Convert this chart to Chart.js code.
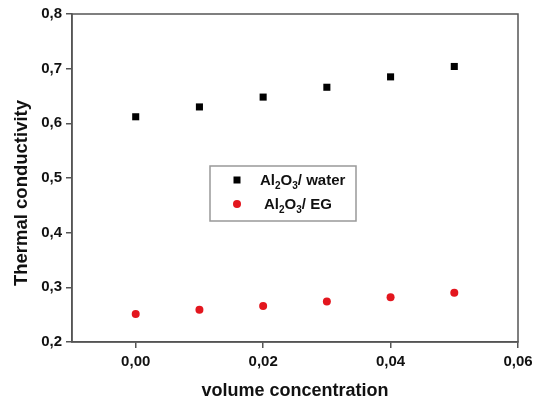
<!DOCTYPE html>
<html>
<head>
<meta charset="utf-8">
<script src="https://cdn.jsdelivr.net/npm/chart.js@4/dist/chart.umd.min.js"></script>
<style>
  html, body { margin: 0; padding: 0; background: #fff; }
  #wrap { width: 533px; height: 402px; }
</style>
</head>
<body>
<div id="wrap"><canvas id="chart" width="533" height="402"></canvas></div>
<script>
// volume concentration values
const concentration = [0.00, 0.01, 0.02, 0.03, 0.04, 0.05];
// thermal conductivity
const waterValues = [0.612, 0.630, 0.648, 0.666, 0.685, 0.704];
const egValues = [0.251, 0.259, 0.266, 0.274, 0.282, 0.290];
const xTicks = [0.00, 0.02, 0.04, 0.06];
const yTicks = [0.2, 0.3, 0.4, 0.5, 0.6, 0.7, 0.8];
const yTitle = 'Thermal conductivity';

const FONT = "'Liberation Sans', Arial, sans-serif";
const AXIS = '#555';

// frame around the plot area + y title (drawn a bit below centre, as in the original)
const framePlugin = {
    id: 'frame',
    afterDatasetsDraw(chart) {
        const a = chart.chartArea;
        const ctx = chart.ctx;
        ctx.save();
        ctx.strokeStyle = AXIS;
        ctx.lineWidth = 1.5;
        ctx.strokeRect(a.left, a.top, a.right - a.left, a.bottom - a.top);

        ctx.translate(22, 193);
        ctx.rotate(-Math.PI / 2);
        ctx.fillStyle = '#111';
        ctx.font = 'bold 18.5px ' + FONT;
        ctx.textAlign = 'center';
        ctx.textBaseline = 'middle';
        ctx.fillText(yTitle, 0, 0);
        ctx.restore();
    }
};

// legend box with subscripts, placed inside the plot
const legendPlugin = {
    id: 'subLegend',
    afterDraw(chart) {
        const ctx = chart.ctx;
        ctx.save();
        ctx.strokeStyle = '#999';
        ctx.lineWidth = 1.5;
        ctx.strokeRect(210, 166, 146, 55);

        const rows = [
            { y: 180, suffix: '/ water', ds: chart.data.datasets[0], tx: 260 },
            { y: 204, suffix: '/ EG', ds: chart.data.datasets[1], tx: 264 }
        ];
        rows.forEach(r => {
            ctx.fillStyle = r.ds.backgroundColor;
            ctx.beginPath();
            if (r.ds.pointStyle === 'rect') {
                ctx.fillRect(233.5, r.y - 3.5, 7, 7);
            } else {
                ctx.arc(237, r.y, 4, 0, Math.PI * 2);
                ctx.fill();
            }
            // Al2O3 with subscripts
            ctx.fillStyle = '#111';
            ctx.textBaseline = 'alphabetic';
            let x = r.tx;
            const base = r.y + 5;
            const parts = [['Al', false], ['2', true], ['O', false], ['3', true], [r.suffix, false]];
            parts.forEach(p => {
                ctx.font = p[1] ? 'bold 10px ' + FONT : 'bold 15px ' + FONT;
                ctx.fillText(p[0], x, p[1] ? base + 4 : base);
                x += ctx.measureText(p[0]).width;
            });
        });
        ctx.restore();
    }
};

new Chart(document.getElementById('chart'), {
    type: 'scatter',
    data: {
        datasets: [
            {
                label: 'Al2O3/ water',
                data: concentration.map((c, i) => ({ x: c, y: waterValues[i] })),
                pointStyle: 'rect',
                pointRadius: 5,
                backgroundColor: '#000',
                borderWidth: 0
            },
            {
                label: 'Al2O3/ EG',
                data: concentration.map((c, i) => ({ x: c, y: egValues[i] })),
                pointStyle: 'circle',
                pointRadius: 4,
                backgroundColor: '#e3161e',
                borderWidth: 0
            }
        ]
    },
    options: {
        responsive: false,
        animation: false,
        layout: { padding: { top: 14, right: 15, left: 0, bottom: 0 } },
        plugins: {
            legend: { display: false },
            tooltip: { enabled: false }
        },
        scales: {
            x: {
                type: 'linear',
                min: -0.01,
                max: 0.06,
                afterBuildTicks: s => { s.ticks = xTicks.map(v => ({ value: v })); },
                afterFit: s => { s.height = 60; s.paddingLeft = 0; s.paddingRight = 0; },
                border: { color: AXIS, width: 1.5 },
                grid: { drawOnChartArea: false, tickLength: 6, color: AXIS, lineWidth: 1.5 },
                ticks: {
                    color: '#111',
                    padding: 5,
                    font: { family: FONT, size: 15, weight: 'bold' },
                    callback: v => v.toFixed(2).replace('.', ',')
                },
                title: {
                    display: true,
                    text: 'volume concentration',
                    color: '#111',
                    padding: { top: 0, bottom: 0 },
                    font: { family: FONT, size: 18, weight: 'bold' }
                }
            },
            y: {
                min: 0.2,
                max: 0.8,
                afterBuildTicks: s => { s.ticks = yTicks.map(v => ({ value: v })); },
                afterFit: s => { s.width = 72; s.paddingTop = 0; s.paddingBottom = 0; },
                border: { color: AXIS, width: 1.5 },
                grid: { drawOnChartArea: false, tickLength: 6, color: AXIS, lineWidth: 1.5 },
                ticks: {
                    color: '#111',
                    padding: 4,
                    font: { family: FONT, size: 15, weight: 'bold' },
                    callback: v => v.toFixed(1).replace('.', ',')
                }
            }
        }
    },
    plugins: [framePlugin, legendPlugin]
});
</script>
</body>
</html>
